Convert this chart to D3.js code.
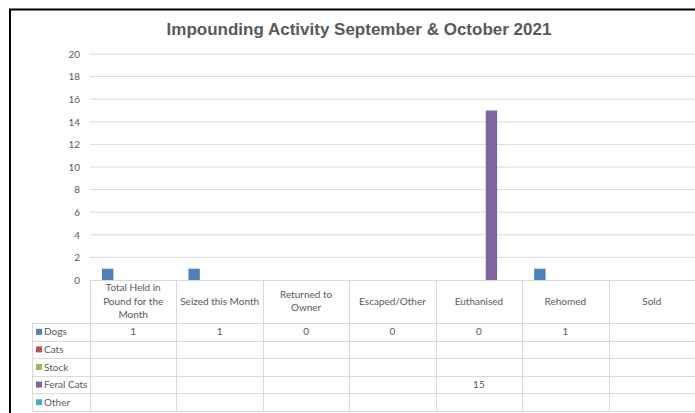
<!DOCTYPE html>
<html>
<head>
<meta charset="utf-8">
<script src="https://cdn.jsdelivr.net/npm/d3@7"></script>
<style>
  html, body { margin: 0; padding: 0; background: #fff; overflow: hidden; }
  svg { display: block; }
</style>
</head>
<body>
<svg id="chart" width="695" height="413"></svg>
<script>
// ---- data ----
const categories = [
  "Total Held in Pound for the Month",
  "Seized this Month",
  "Returned to Owner",
  "Escaped/Other",
  "Euthanised",
  "Rehomed",
  "Sold"
];
const categoryLines = [
  ["Total Held in", "Pound for the", "Month"],
  ["Seized this Month"],
  ["Returned to", "Owner"],
  ["Escaped/Other"],
  ["Euthanised"],
  ["Rehomed"],
  ["Sold"]
];
const seriesNames = ["Dogs", "Cats", "Stock", "Feral Cats", "Other"];
const seriesColors = ["#4F81BD", "#C0504D", "#9BBB59", "#8064A2", "#4BACC6"];
const dogs      = [1, 1, 0, 0, 0, 1, null];
const cats      = [null, null, null, null, null, null, null];
const stock     = [null, null, null, null, null, null, null];
const feralCats = [null, null, null, null, 15, null, null];
const other     = [null, null, null, null, null, null, null];
const yTicks = [0, 2, 4, 6, 8, 10, 12, 14, 16, 18, 20];
const titleText = "Impounding Activity September & October 2021";

const seriesValues = [dogs, cats, stock, feralCats, other];

// ---- layout ----
const svg = d3.select("#chart");
const plotLeft = 90, plotRight = 695, plotTop = 54, plotBottom = 280;
const tableLeft = 32;
const headerBottom = 323;
const rowH = 17.6;
const textColor = "#595959";
const gridColor = "#d9d9d9";
const font = "Lato, 'Open Sans', sans-serif";

// chart border
svg.append("rect")
  .attr("x", 10).attr("y", 9.5)
  .attr("width", 720).attr("height", 420)
  .attr("fill", "none").attr("stroke", "#000").attr("stroke-width", 2);

// title
svg.append("text")
  .attr("x", 359).attr("y", 35)
  .attr("text-anchor", "middle")
  .attr("font-family", "'Liberation Sans', Arial, sans-serif")
  .attr("font-weight", "bold")
  .attr("font-size", 17)
  .attr("fill", textColor)
  .text(titleText);

// scales
const x = d3.scaleBand().domain(categories).range([plotLeft, plotRight]).padding(0);
const inner = d3.scaleBand().domain(seriesNames).range([12, 74.1]).paddingInner(0.1);
const y = d3.scaleLinear().domain([0, 20]).range([plotBottom, plotTop]);

// gridlines
svg.append("g")
  .selectAll("line")
  .data(yTicks.filter(d => d > 0))
  .join("line")
  .attr("x1", plotLeft).attr("x2", plotRight)
  .attr("y1", d => y(d)).attr("y2", d => y(d))
  .attr("stroke", gridColor).attr("stroke-width", 1);

// y axis labels
const yAxis = d3.axisLeft(y).tickValues(yTicks).tickSize(0).tickPadding(10);
const gy = svg.append("g").attr("transform", `translate(${plotLeft},0)`).call(yAxis);
gy.select(".domain").remove();
gy.selectAll("text")
  .attr("font-family", font)
  .attr("font-size", 10)
  .attr("fill", textColor);

// bars
seriesNames.forEach((s, si) => {
  svg.append("g")
    .selectAll("rect")
    .data(categories.map((c, ci) => ({ c, v: seriesValues[si][ci] })).filter(d => d.v))
    .join("rect")
    .attr("x", d => x(d.c) + inner(s))
    .attr("width", inner.bandwidth())
    .attr("y", d => y(d.v))
    .attr("height", d => y(0) - y(d.v))
    .attr("fill", seriesColors[si]);
});

// ---- data table ----
const tg = svg.append("g").attr("stroke", gridColor).attr("stroke-width", 1);
// axis line (top of table)
tg.append("line").attr("x1", plotLeft).attr("x2", plotRight)
  .attr("y1", plotBottom + 0.5).attr("y2", plotBottom + 0.5);
// horizontal row lines
const rowLines = d3.range(seriesNames.length + 1).map(i => headerBottom + i * rowH);
tg.selectAll(".hrow").data(rowLines).join("line")
  .attr("x1", tableLeft).attr("x2", plotRight)
  .attr("y1", d => Math.round(d) + 0.5).attr("y2", d => Math.round(d) + 0.5);
// vertical lines at category boundaries
const tableBottom = headerBottom + seriesNames.length * rowH;
tg.selectAll(".vcol").data(categories).join("line")
  .attr("x1", d => Math.round(x(d)) + 0.5).attr("x2", d => Math.round(x(d)) + 0.5)
  .attr("y1", plotBottom).attr("y2", Math.round(tableBottom) + 0.5);
// left edge of legend column
tg.append("line")
  .attr("x1", tableLeft + 0.5).attr("x2", tableLeft + 0.5)
  .attr("y1", headerBottom).attr("y2", Math.round(tableBottom) + 0.5);

// header labels
const hg = svg.append("g").attr("font-family", font).attr("font-size", 10).attr("fill", textColor)
  .attr("text-anchor", "middle");
categories.forEach((c, ci) => {
  const lines = categoryLines[ci];
  const lh = 13.5;
  const cy = 301;
  lines.forEach((ln, li) => {
    hg.append("text")
      .attr("x", x(c) + x.bandwidth() / 2)
      .attr("y", cy + (li - (lines.length - 1) / 2) * lh)
      .attr("dy", "0.35em")
      .text(ln);
  });
});

// rows: legend keys + values
seriesNames.forEach((s, si) => {
  const cy = headerBottom + si * rowH + rowH / 2;
  svg.append("rect")
    .attr("x", 36).attr("y", cy - 3)
    .attr("width", 6).attr("height", 6)
    .attr("fill", seriesColors[si]);
  svg.append("text")
    .attr("x", 44).attr("y", cy).attr("dy", "0.35em")
    .attr("font-family", font).attr("font-size", 10).attr("fill", textColor)
    .text(s);
  categories.forEach((c, ci) => {
    const v = seriesValues[si][ci];
    if (v === null || v === undefined) return;
    svg.append("text")
      .attr("x", x(c) + x.bandwidth() / 2).attr("y", cy).attr("dy", "0.35em")
      .attr("text-anchor", "middle")
      .attr("font-family", font).attr("font-size", 10).attr("fill", textColor)
      .text(v);
  });
});
</script>
</body>
</html>
